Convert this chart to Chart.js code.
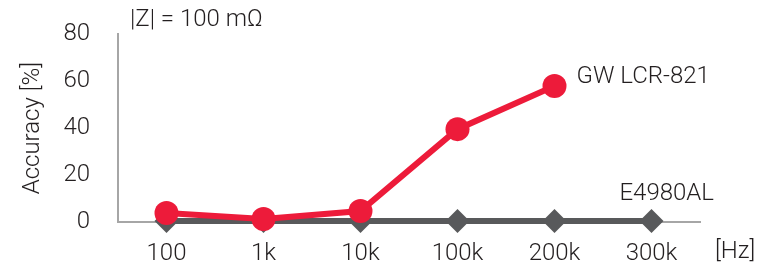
<!DOCTYPE html>
<html>
<head>
<meta charset="utf-8">
<script src="https://cdn.jsdelivr.net/npm/chart.js@4/dist/chart.umd.min.js"></script>
<style>
    html, body { margin: 0; padding: 0; background: #fff; }
    #wrap { width: 766px; height: 268px; }
</style>
</head>
<body>
<div id="wrap"><canvas id="accChart" width="766" height="268"></canvas></div>
<script>
// ======================================================
// Data
// ======================================================

const freqLabels = ["100", "1k", "10k", "100k", "200k", "300k"];
const gwValues = [3.8, 1.3, 4.7, 39.6, 58, null];
const e4980Values = [0.4, 0.4, 0.4, 0.4, 0.4, 0.4];
const yTicks = [0, 20, 40, 60, 80];

const RED = "#ED1B3A";
const GRAY = "#58595B";
const AXIS = "#A6A6A6";
const TEXT = "#231F20";
const FONT = "'Roboto', sans-serif";

// ======================================================
// Text annotations
// ======================================================

const annotations = {
    id: "annotations",
    afterDraw(chart) {
        const ctx = chart.ctx;
        const x = chart.scales.x;
        const y = chart.scales.y;
        ctx.save();
        ctx.fillStyle = TEXT;
        ctx.font = "300 24px " + FONT;
        ctx.textBaseline = "middle";

        ctx.textAlign = "left";
        ctx.fillText("GW LCR-821", x.getPixelForValue(4) + 22, y.getPixelForValue(62));
        ctx.textAlign = "right";
        ctx.fillText("E4980AL", x.right + 14, y.getPixelForValue(12));
        ctx.textAlign = "left";
        ctx.fillText("|Z| = 100 mΩ", chart.chartArea.left + 12, 20);
        ctx.fillText("[Hz]", x.right + 15, 252);

        ctx.translate(33, (y.top + y.bottom) / 2);
        ctx.rotate(-Math.PI / 2);
        ctx.textAlign = "center";
        ctx.fillText("Accuracy [%]", 0, 0);
        ctx.restore();
    }
};

// ======================================================
// Chart
// ======================================================

new Chart(document.getElementById("accChart"), {
    type: "line",
    data: {
        labels: freqLabels,
        datasets: [
            {
                label: "GW LCR-821",
                data: gwValues,
                borderColor: RED,
                backgroundColor: RED,
                borderWidth: 6,
                pointRadius: 12,
                pointHoverRadius: 12,
                pointBorderWidth: 0,
                clip: false,
                order: 1
            },
            {
                label: "E4980AL",
                data: e4980Values,
                borderColor: GRAY,
                backgroundColor: GRAY,
                borderWidth: 6,
                pointStyle: "rectRot",
                pointRadius: 12,
                pointHoverRadius: 12,
                pointBorderWidth: 0,
                clip: false,
                order: 2
            }
        ]
    },
    options: {
        responsive: false,
        animation: false,
        layout: { padding: { top: 34, right: 66, left: 0, bottom: 0 } },
        plugins: {
            legend: { display: false },
            tooltip: { enabled: false }
        },
        scales: {
            x: {
                offset: true,
                grid: { display: false },
                border: { color: AXIS, width: 2 },
                ticks: { color: TEXT, font: { size: 24, weight: 300, family: FONT }, padding: 10 },
                afterFit(scale) { scale.height = 46; }
            },
            y: {
                min: 0,
                max: 80,
                grid: { display: false },
                border: { color: AXIS, width: 2 },
                afterBuildTicks(scale) { scale.ticks = yTicks.map(v => ({ value: v })); },
                ticks: { color: TEXT, font: { size: 24, weight: 300, family: FONT }, padding: 20 },
                afterFit(scale) { scale.width = 118; }
            }
        }
    },
    plugins: [annotations]
});
</script>
</body>
</html>
